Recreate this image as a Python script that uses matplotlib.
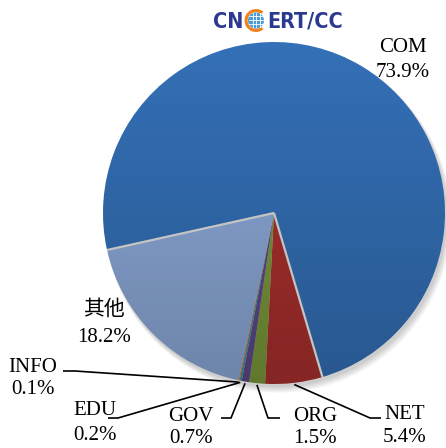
import numpy as np
import matplotlib
matplotlib.use("Agg")
import matplotlib.pyplot as plt
from matplotlib.patches import Circle, Wedge
from matplotlib import font_manager
from matplotlib.font_manager import FontProperties

# ---------------- data ----------------
categories = ["COM", "NET", "ORG", "GOV", "EDU", "INFO", "其他"]
shares = [73.9, 5.4, 1.5, 0.7, 0.2, 0.1, 18.2]
pct_labels = ["73.9%", "5.4%", "1.5%", "0.7%", "0.2%", "0.1%", "18.2%"]
colors = ["#3470B7", "#AA302E", "#7B9A3A", "#5E4A8C", "#3E8FA8", "#E27A22", "#8DAADA"]

# ---------------- layout helpers (pixel -> data) ----------------
W, H = 446, 448
CX, CY, R = 274, 213, 171


def P(px, py):
    return ((px - CX) / R, (CY - py) / R)


serif = ["Liberation Serif", "Noto Sans CJK SC", "DejaVu Sans"]

# look for a condensed sans bold font for the logo
logo_prop = None
logo_size = 15.5
cands = []
for f in font_manager.fontManager.ttflist:
    nm = f.name.lower()
    st = str(f.stretch).lower()
    cond = ("narrow" in nm or "condensed" in nm or st in ("condensed", "semi-condensed",
                                                          "extra-condensed", "ultra-condensed")
            or (isinstance(f.stretch, int) and f.stretch < 500))
    if cond and "serif" not in nm.replace("sans", "") and "mono" not in nm:
        w = f.weight if isinstance(f.weight, int) else (700 if "bold" in str(f.weight) else 400)
        cands.append((0 if w >= 600 else 1, 0 if "liberation" in nm else 1, f.fname))
if cands:
    cands.sort()
    logo_prop = FontProperties(fname=cands[0][2], size=logo_size)
    if cands[0][0] == 1:
        logo_prop.set_weight("bold")
else:
    logo_prop = FontProperties(family="Liberation Sans", weight="bold", size=13)

fig = plt.figure(figsize=(W / 100, H / 100), dpi=100)
ax = fig.add_axes([0, 0, 1, 1])
ax.axis("off")

# soft shadow
for i, a in enumerate([0.05, 0.05, 0.05, 0.05]):
    ax.add_patch(Circle((0.012 + 0.004 * i, -0.02 - 0.006 * i), 1.0 + 0.004 * i,
                        facecolor="black", edgecolor="none", alpha=a, zorder=0))

startangle = 192.5
wedges, _ = ax.pie(shares, colors=colors, startangle=startangle, counterclock=False,
                   radius=1.0, center=(0, 0),
                   wedgeprops=dict(edgecolor="none", linewidth=0))
for w in wedges:
    w.set_zorder(1)

# vertical shading gradient clipped to the pie
grad = np.linspace(0, 1, 256)[:, None] * np.ones((1, 2))
rgba = np.zeros((256, 2, 4))
rgba[..., 3] = 0.22 * grad
img = ax.imshow(rgba, extent=(-1, 1, -1, 1), origin="upper", zorder=2, aspect="auto")
clip = Circle((0, 0), 1.0, transform=ax.transData)
img.set_clip_path(clip)
ax.set_xlim(P(0, 0)[0], P(W, 0)[0])
ax.set_ylim(P(0, H)[1], P(0, 0)[1])
ax.set_aspect("auto")

# gray separators along COM boundaries
com = wedges[0]
for ang in (com.theta1, com.theta2):
    t = np.deg2rad(ang)
    ax.plot([0, np.cos(t)], [0, np.sin(t)], color="#C4C4C4", lw=1.6, zorder=3,
            solid_capstyle="butt")

# ---------------- labels ----------------
fs = 15


def two_line(name, pct, cx, base1, base2):
    ax.text(*P(cx, base1), name, ha="center", va="baseline", fontsize=fs, family=serif, zorder=5)
    ax.text(*P(cx, base2), pct, ha="center", va="baseline", fontsize=fs, family=serif, zorder=5)


idx = {c: i for i, c in enumerate(categories)}
two_line("COM", pct_labels[idx["COM"]], 403, 52, 77)
two_line("其他", pct_labels[idx["其他"]], 104, 315, 342)
two_line("INFO", pct_labels[idx["INFO"]], 33, 372, 394)
two_line("EDU", pct_labels[idx["EDU"]], 95, 415, 440)
two_line("GOV", pct_labels[idx["GOV"]], 191, 421, 443)
two_line("ORG", pct_labels[idx["ORG"]], 315, 421, 443)
two_line("NET", pct_labels[idx["NET"]], 405, 419, 442)


def anchor(cat, r=1.01):
    w = wedges[idx[cat]]
    t = np.deg2rad((w.theta1 + w.theta2) / 2)
    return (r * np.cos(t), r * np.sin(t))


leaders = {
    "INFO": [P(63, 371), P(75, 371)],
    "EDU": [P(108, 418), P(118, 418)],
    "GOV": [P(221, 418), P(231, 418)],
    "ORG": [P(280, 418), P(268, 418)],
    "NET": [P(381, 418), P(370, 418)],
}
for cat, pts in leaders.items():
    a = anchor(cat)
    xs = [pts[0][0], pts[1][0], a[0]]
    ys = [pts[0][1], pts[1][1], a[1]]
    ax.plot(xs, ys, color="black", lw=1.2, zorder=4, solid_capstyle="butt")

# ---------------- logo ----------------
navy = "#2B3990"
ax.text(*P(243.5, 28), "CN", ha="right", va="baseline", fontproperties=logo_prop,
        color=navy, zorder=6)
ax.text(*P(267.5, 28), "ERT/CC", ha="left", va="baseline", fontproperties=logo_prop,
        color=navy, zorder=6)
gc = P(256, 20.5)
ax.add_patch(Wedge(gc, 11.5 / R, 50, 310, width=3.2 / R, facecolor="#F0831E",
                   edgecolor="none", zorder=6))
ax.add_patch(Circle(gc, 8 / R, facecolor="#4A9BDA", edgecolor="none", zorder=6))
for dy in (-4, 0, 4):
    ax.plot([gc[0] - 7 / R, gc[0] + 7 / R], [gc[1] + dy / R, gc[1] + dy / R],
            color="white", lw=0.6, zorder=7)
for dx in (-3.5, 0, 3.5):
    ax.plot([gc[0] + dx / R, gc[0] + dx / R], [gc[1] - 7 / R, gc[1] + 7 / R],
            color="white", lw=0.6, zorder=7)

fig.savefig("out.png", dpi=100)
